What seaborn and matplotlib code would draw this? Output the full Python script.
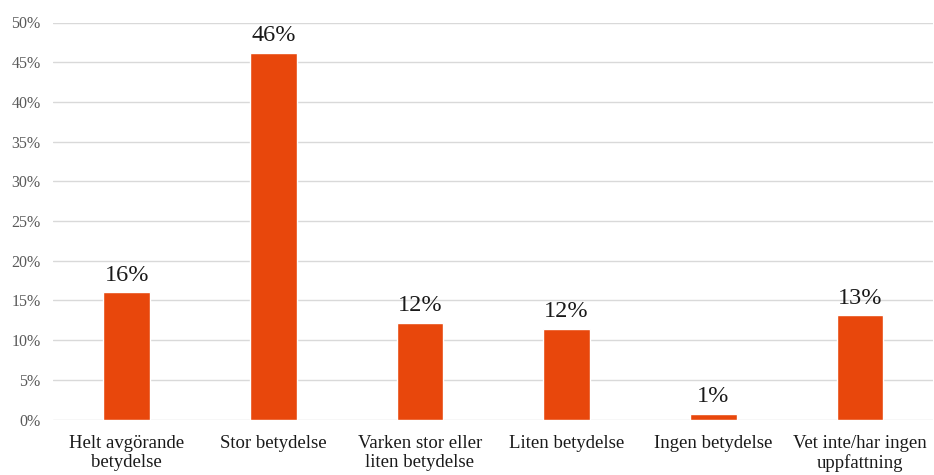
import matplotlib
matplotlib.use("Agg")
import matplotlib.pyplot as plt
import seaborn as sns
import pandas as pd
from matplotlib.ticker import PercentFormatter

categories = ["Helt avgörande\nbetydelse", "Stor betydelse", "Varken stor eller\nliten betydelse",
              "Liten betydelse", "Ingen betydelse", "Vet inte/har ingen\nuppfattning"]
values = [0.160, 0.462, 0.122, 0.114, 0.0065, 0.131]
value_labels = ["16%", "46%", "12%", "12%", "1%", "13%"]

sns.set_theme(style="white")
plt.rcParams['font.family'] = ['Liberation Serif', 'DejaVu Serif']

df = pd.DataFrame({"cat": categories, "val": values})

fig = plt.figure(figsize=(9.34, 4.75), dpi=100)
ax = fig.add_axes([53.3 / 934, 1 - 419.5 / 475, 880 / 934, 397 / 475])
sns.barplot(data=df, x="cat", y="val", color="#E8470C", saturation=1, width=0.318, ax=ax)

ax.set_ylim(0, 0.5)
ax.set_yticks([i * 0.05 for i in range(11)])
ax.yaxis.set_major_formatter(PercentFormatter(1.0, decimals=0))
ax.grid(axis="y", color="#d9d9d9", linewidth=1)
ax.set_axisbelow(True)
for s in ax.spines.values():
    s.set_visible(False)
ax.set_xlabel("")
ax.set_ylabel("")
ax.tick_params(axis="y", labelsize=11.5, labelcolor="#595959", length=0, pad=9)
ax.tick_params(axis="x", labelsize=13.5, labelcolor="#1a1a1a", length=0, pad=11)
for lbl in ax.get_xticklabels():
    lbl.set_linespacing(1.15)

ax.bar_label(ax.containers[0], labels=value_labels, padding=5, fontsize=17.5, color="#1a1a1a")

fig.savefig("out.png", dpi=100)
